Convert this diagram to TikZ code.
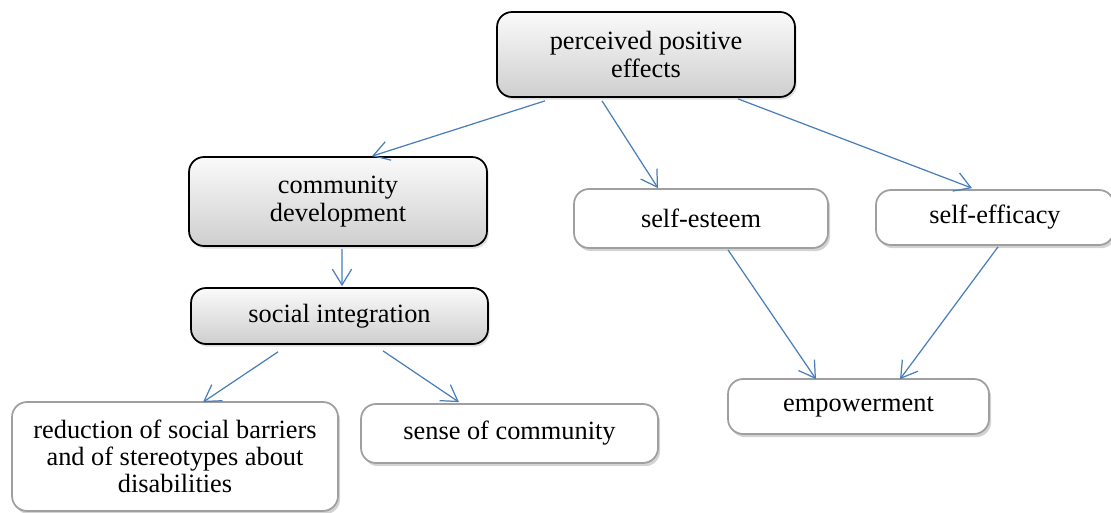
\documentclass[tikz,border=0pt]{standalone}
\usepackage{fontspec}
\setmainfont{Liberation Serif}
\usepackage{tikz}
\definecolor{bleu}{HTML}{4A7EBB}
\usetikzlibrary{calc,shadows,arrows.meta}

\begin{document}
\begin{tikzpicture}[x=0.02cm,y=-0.02cm,
  box/.style={rounded corners=0.3cm,align=center,inner sep=0pt,
    font=\fontsize{15}{15.5}\selectfont,line width=1pt},
  grise/.style={box,draw=black,top color=gray!4,bottom color=gray!38,
    drop shadow={opacity=0.25,shadow xshift=1pt,shadow yshift=-1.5pt}},
  blanche/.style={box,draw=gray!75,fill=white,
    drop shadow={opacity=0.35,shadow xshift=1.2pt,shadow yshift=-1.8pt}},
  fleche/.style={-{Straight Barb[length=9pt,width=11pt]},bleu,line width=0.7pt}]
  \clip (0,0) rectangle (1111,513);

  % boîtes grises
  \node[grise,minimum width=5.96cm,minimum height=1.7cm] at (646,54.5) (ppe)
    {perceived positive\\effects};
  \node[grise,minimum width=5.96cm,minimum height=1.78cm] at (338,201.5) (cd)
    {community\\development};
  \node[grise,minimum width=5.94cm,minimum height=1.12cm] at (339.5,316) (si)
    {social integration};

  % boîtes blanches
  \node[blanche,minimum width=5.08cm,minimum height=1.18cm] at (701,218.5) (se)
    {self-esteem};
  \node[blanche,minimum width=4.76cm,minimum height=1.1cm] at (995,217.5) (sef)
    {self-efficacy};
  \node[blanche,minimum width=5.22cm,minimum height=1.1cm] at (858.5,406.5) (emp)
    {empowerment};
  \node[blanche,minimum width=5.94cm,minimum height=1.18cm] at (509.5,433.5) (soc)
    {sense of community};
  \node[blanche,minimum width=6.52cm,minimum height=2.18cm] at (175,456.5) (rsb)
    {reduction of social barriers\\and of stereotypes about\\disabilities};

  % flèches
  \draw[fleche] ($(ppe.south)+(-101,3)$) -- ($(cd.north)+(34,0)$);
  \draw[fleche] ($(ppe.south)+(-44,3)$) -- ($(se.north)+(-43,0)$);
  \draw[fleche] ($(ppe.south)+(92,1)$) -- ($(sef.north)+(-23,-1)$);
  \draw[fleche] ($(cd.south)+(4,2)$) -- ($(si.north)+(2.5,-1)$);
  \draw[fleche] ($(si.south)+(-61.5,7)$) -- ($(rsb.north)+(28,1)$);
  \draw[fleche] ($(si.south)+(43.5,6)$) -- ($(soc.north)+(-50.5,-1)$);
  \draw[fleche] ($(se.south)+(27,1)$) -- ($(emp.north)+(-42.5,1)$);
  \draw[fleche] ($(sef.south)+(3,1)$) -- ($(emp.north)+(41.5,1)$);
\end{tikzpicture}
\end{document}
